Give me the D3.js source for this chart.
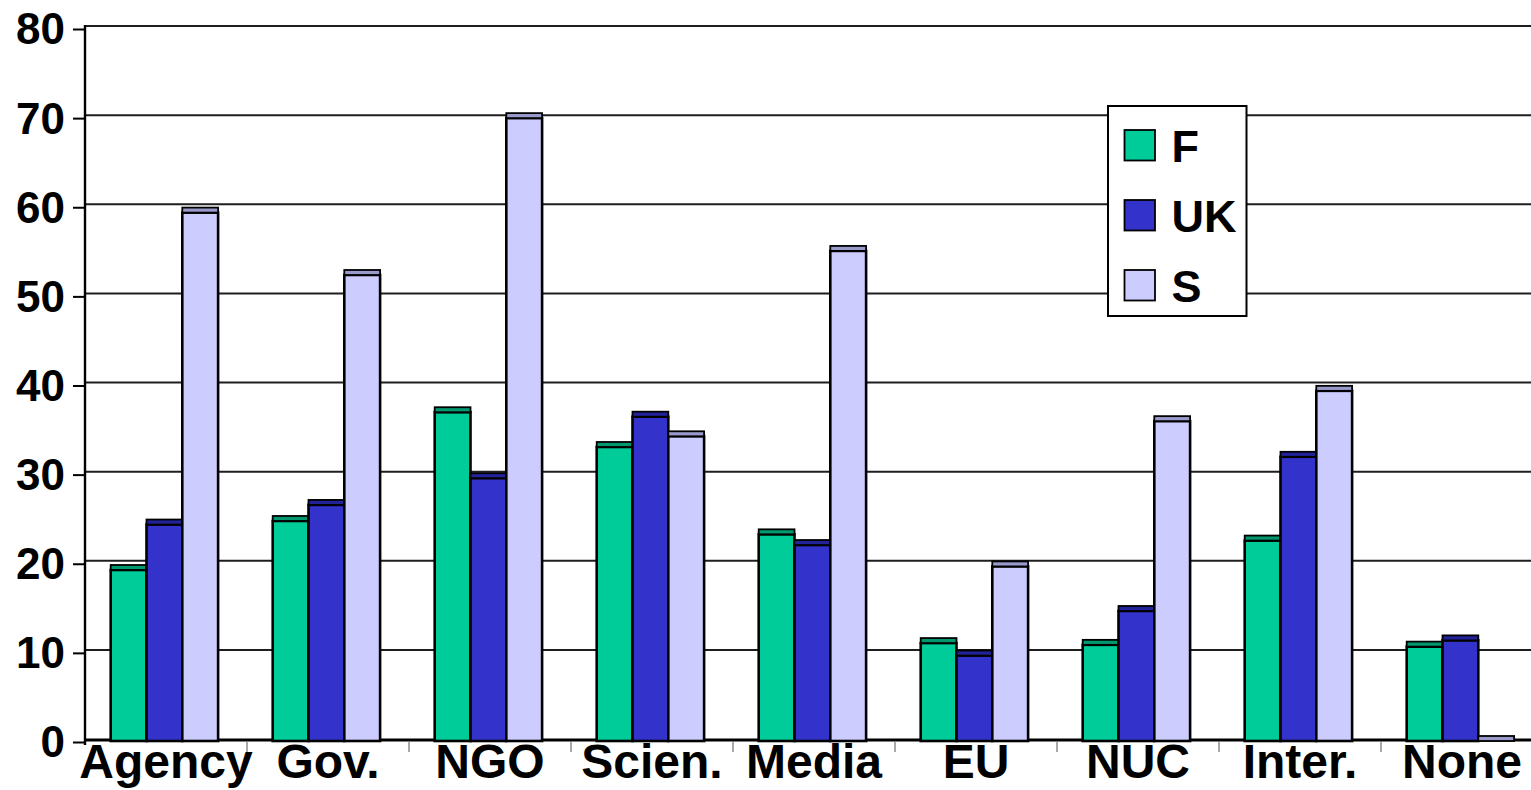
<!DOCTYPE html>
<html>
<head>
<meta charset="utf-8">
<script src="https://cdn.jsdelivr.net/npm/d3@7/dist/d3.min.js"></script>
<style>
  html, body { margin: 0; padding: 0; background: #fff; }
  svg { display: block; font-family: "Liberation Sans", Arial, sans-serif; font-weight: bold; }
</style>
</head>
<body>
<svg id="chart" width="1531" height="790"></svg>
<script>
// Categories of information source
const categories = ["Agency", "Gov.", "NGO", "Scien.", "Media", "EU", "NUC", "Inter.", "None"];
// Series (countries)
const seriesNames = ["F", "UK", "S"];
// Percent values per category for each series
const valuesF  = [19.3, 24.8, 37.0, 33.1, 23.3, 11.1, 10.9, 22.6, 10.7];
const valuesUK = [24.4, 26.6, 29.6, 36.5, 22.1,  9.7, 14.7, 32.0, 11.4];
const valuesS  = [59.4, 52.4, 70.0, 34.3, 55.1, 19.7, 36.0, 39.4,  0.0];
const yTicks = [0, 10, 20, 30, 40, 50, 60, 70, 80];

const colors    = { F: "#00cc99", UK: "#3333cc", S: "#ccccff" };
const capColors = { F: "#00996f", UK: "#222299", S: "#9999cc" };

const seriesValues = { F: valuesF, UK: valuesUK, S: valuesS };

const svg = d3.select("#chart");

const x = d3.scaleBand().domain(categories).range([85, 1543]).padding(0);
const inner = d3.scaleBand().domain(seriesNames).range([25.7, 25.7 + 107.4]).padding(0);
const y = d3.scaleLinear().domain([0, 80]).range([742, 29]);

const depth = 5;     // height of the bar top face
const wallShift = 3; // back-wall gridlines sit slightly above the front ticks

// gridlines on the back wall
svg.append("g").selectAll("line")
  .data(yTicks.filter(d => d > 0))
  .join("line")
  .attr("x1", 85).attr("x2", 1543)
  .attr("y1", d => y(d) - wallShift).attr("y2", d => y(d) - wallShift)
  .attr("stroke", "#1e1e1e").attr("stroke-width", 2);

// floor
svg.append("line")
  .attr("x1", 85).attr("x2", 1543)
  .attr("y1", y(0) - 2).attr("y2", y(0) - 2)
  .attr("stroke", "#000").attr("stroke-width", 3);

// category tick marks
svg.append("g").selectAll("line")
  .data(categories.slice(1))
  .join("line")
  .attr("x1", d => x(d)).attr("x2", d => x(d))
  .attr("y1", y(0)).attr("y2", y(0) + 10)
  .attr("stroke", "#555").attr("stroke-width", 1);

// bars
const rows = [];
categories.forEach((c, i) => {
  seriesNames.forEach(s => rows.push({ cat: c, s: s, v: seriesValues[s][i] }));
});

const bars = svg.append("g").selectAll("g").data(rows).join("g");

bars.append("rect")
  .attr("x", d => x(d.cat) + inner(d.s))
  .attr("y", d => y(d.v))
  .attr("width", inner.bandwidth())
  .attr("height", d => Math.max(0, y(0) - 1 - y(d.v)))
  .attr("fill", d => colors[d.s])
  .attr("stroke", "#000").attr("stroke-width", 2.6);

bars.append("rect")
  .attr("x", d => x(d.cat) + inner(d.s))
  .attr("y", d => Math.min(y(d.v), y(0) - 1) - depth)
  .attr("width", inner.bandwidth())
  .attr("height", depth)
  .attr("fill", d => capColors[d.s])
  .attr("stroke", "#000").attr("stroke-width", 1.8);

// value axis
svg.append("line")
  .attr("x1", 85).attr("x2", 85)
  .attr("y1", y(80) - wallShift - 1).attr("y2", y(0) + 3)
  .attr("stroke", "#000").attr("stroke-width", 2.4);

const yAxis = d3.axisLeft(y).tickValues(yTicks).tickSize(12).tickPadding(8).tickFormat(d3.format("d"));
const ya = svg.append("g").attr("transform", "translate(85,0)").call(yAxis);
ya.select(".domain").remove();
ya.selectAll(".tick line").attr("stroke", "#000").attr("stroke-width", 2);
ya.selectAll(".tick text")
  .attr("font-size", 44).attr("font-weight", "bold")
  .attr("font-family", "'Liberation Sans', Arial, sans-serif")
  .attr("fill", "#000").attr("dy", "0.34em");

// category labels
svg.append("g").selectAll("text")
  .data(categories)
  .join("text")
  .attr("x", d => x(d) + x.bandwidth() / 2)
  .attr("y", 778)
  .attr("text-anchor", "middle")
  .attr("font-size", 48)
  .attr("fill", "#000")
  .text(d => d);

// legend
const legend = svg.append("g");
legend.append("rect")
  .attr("x", 1108).attr("y", 106).attr("width", 138.5).attr("height", 210)
  .attr("fill", "#fff").attr("stroke", "#000").attr("stroke-width", 2);
const items = legend.selectAll("g.item").data(seriesNames).join("g")
  .attr("transform", (d, i) => `translate(1124.5, ${130 + i * 70})`);
items.append("rect")
  .attr("width", 30.5).attr("height", 30.5)
  .attr("fill", d => colors[d]).attr("stroke", "#000").attr("stroke-width", 1.8);
items.append("text")
  .attr("x", 47).attr("y", 15.5).attr("dy", "0.36em")
  .attr("font-size", 45).attr("fill", "#000")
  .text(d => d);
</script>
</body>
</html>
